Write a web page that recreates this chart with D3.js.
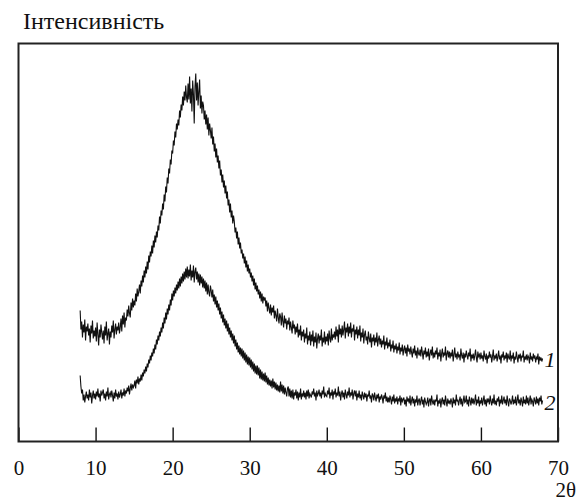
<!DOCTYPE html>
<html>
<head>
<meta charset="utf-8">
<script src="https://cdn.jsdelivr.net/npm/d3@7"></script>
<style>
  body { margin: 0; background: #fff; }
</style>
</head>
<body>
<svg width="579" height="503"></svg>
<script>
// Кут 2θ: перша точка і крок зйомки
const thetaStart = 8;
const thetaStep = 0.1;
const tickValues = [0, 10, 20, 30, 40, 50, 60, 70];
const curveLabels = ["1", "2"];
const yTitle = "Інтенсивність";
const xTitle = "2θ";
const serif = "'Liberation Serif', 'Times New Roman', serif";

// Зразок 1 (8° ... 68°, крок 0.1°), умовні одиниці
const intensity1 = [
  131, 112, 120, 104, 117, 109, 122, 101, 115, 110,
  118, 106, 113, 99, 116, 108, 121, 103, 111, 105,
  114, 100, 119, 107, 96, 112, 104, 117, 109, 102,
  111, 98, 115, 106, 120, 101, 108, 113, 97, 110,
  104, 116, 109, 121, 103, 112, 118, 107, 115, 111,
  119, 108, 114, 123, 110, 126, 117, 129, 114, 124,
  121, 132, 125, 136, 128, 124, 139, 131, 143, 134,
  141, 136, 148, 140, 153, 145, 150, 157, 148, 161,
  155, 166, 159, 171, 164, 175, 168, 180, 172, 186,
  179, 190, 185, 196, 188, 201, 194, 206, 199, 210,
  204, 216, 211, 225, 218, 231, 226, 238, 232, 247,
  240, 255, 249, 264, 258, 273, 268, 282, 277, 291,
  288, 301, 296, 310, 304, 318, 312, 322, 316, 331,
  324, 337, 331, 345, 336, 350, 341, 356, 344, 339,
  358, 342, 365, 338, 353, 330, 361, 347, 318, 355,
  368, 341, 359, 336, 350, 362, 333, 346, 328, 340,
  336, 322, 331, 317, 327, 312, 324, 306, 318, 311,
  303, 314, 297, 305, 290, 298, 284, 293, 279, 286,
  273, 281, 266, 272, 259, 267, 254, 261, 248, 256,
  243, 250, 236, 242, 229, 238, 224, 231, 218, 226,
  220, 209, 214, 203, 210, 197, 204, 193, 199, 188,
  192, 183, 188, 178, 185, 174, 181, 170, 177, 168,
  173, 164, 169, 160, 166, 156, 163, 152, 159, 150,
  156, 147, 152, 143, 150, 140, 148, 138, 145, 141,
  144, 135, 141, 130, 139, 133, 128, 137, 126, 134,
  129, 136, 123, 131, 126, 120, 133, 124, 118, 128,
  125, 116, 129, 120, 114, 126, 118, 123, 112, 121,
  117, 124, 111, 120, 114, 108, 121, 113, 117, 107,
  115, 109, 118, 104, 112, 106, 116, 101, 110, 105,
  112, 99, 108, 103, 114, 97, 106, 101, 110, 96,
  107, 100, 111, 95, 105, 99, 109, 93, 103, 108,
  98, 106, 101, 112, 95, 104, 99, 110, 97, 105,
  100, 108, 96, 111, 103, 99, 113, 101, 107, 104,
  110, 102, 115, 105, 112, 99, 117, 107, 113, 104,
  116, 106, 112, 120, 103, 114, 109, 118, 105, 115,
  108, 119, 104, 113, 110, 117, 101, 112, 107, 115,
  103, 112, 106, 116, 100, 109, 104, 113, 98, 107,
  111, 101, 105, 97, 110, 103, 99, 108, 94, 104,
  100, 107, 96, 104, 99, 109, 95, 102, 106, 97,
  103, 94, 101, 97, 106, 92, 100, 96, 104, 93,
  99, 95, 102, 90, 97, 93, 101, 89, 96, 92,
  98, 88, 95, 91, 99, 87, 94, 90, 97, 86,
  92, 96, 88, 94, 85, 97, 90, 93, 87, 95,
  89, 84, 93, 88, 96, 86, 91, 83, 94, 88,
  86, 92, 85, 95, 89, 82, 91, 87, 94, 84,
  90, 85, 93, 81, 88, 92, 86, 95, 83, 89,
  84, 91, 87, 94, 82, 89, 85, 92, 80, 88,
  93, 84, 89, 86, 95, 81, 88, 91, 84, 90,
  83, 89, 85, 92, 80, 87, 94, 84, 88, 82,
  90, 85, 87, 81, 93, 86, 83, 89, 79, 88,
  84, 91, 86, 82, 89, 85, 93, 80, 87, 83,
  88, 81, 86, 92, 84, 79, 90, 85, 87, 82,
  89, 83, 86, 80, 91, 85, 82, 88, 78, 86,
  83, 90, 84, 87, 79, 85, 92, 81, 86, 83,
  88, 80, 85, 91, 82, 86, 78, 87, 84, 90,
  81, 86, 83, 89, 79, 88, 84, 82, 91, 80,
  86, 83, 89, 78, 85, 82, 90, 84, 79, 87,
  83, 88, 80, 86, 84, 91, 79, 85, 82, 87,
  81, 86, 84, 78, 89, 82, 85, 80, 88, 83,
  86, 79, 84, 82, 88, 77, 85, 81, 84, 80,
  83
];

// Зразок 2
const intensity2 = [
  66, 55, 48, 52, 41, 47, 39, 45, 50, 43,
  47, 41, 52, 44, 49, 38, 46, 51, 43, 48,
  42, 50, 45, 53, 44, 48, 40, 51, 46, 49,
  52, 43, 48, 41, 50, 45, 54, 42, 47, 49,
  44, 51, 46, 40, 49, 43, 52, 45, 48, 42,
  50, 44, 47, 52, 43, 49, 46, 53, 45, 51,
  48, 54, 50, 56, 47, 53, 58, 51, 57, 54,
  56, 61, 53, 62, 58, 65, 57, 63, 60, 67,
  61, 69, 65, 72, 68, 75, 70, 78, 74, 82,
  78, 86, 81, 89, 85, 93, 88, 97, 92, 102,
  97, 106, 101, 110, 105, 114, 109, 119, 113, 124,
  118, 129, 122, 133, 127, 137, 131, 142, 136, 148,
  141, 151, 145, 154, 148, 157, 151, 160, 153, 163,
  155, 165, 158, 168, 160, 170, 162, 173, 164, 175,
  163, 172, 165, 177, 161, 171, 164, 176, 159, 170,
  174, 162, 170, 159, 168, 156, 167, 158, 165, 154,
  163, 153, 161, 150, 159, 147, 157, 149, 145, 156,
  151, 144, 152, 140, 147, 137, 145, 134, 141, 131,
  138, 127, 134, 123, 130, 119, 127, 116, 123, 113,
  121, 110, 118, 107, 114, 104, 111, 101, 108, 98,
  106, 95, 102, 92, 99, 89, 96, 87, 94, 85,
  93, 83, 91, 81, 89, 79, 87, 77, 85, 76,
  84, 74, 82, 72, 80, 70, 78, 68, 76, 67,
  76, 66, 74, 63, 72, 62, 70, 61, 68, 60,
  69, 59, 66, 57, 64, 56, 62, 55, 61, 53,
  63, 54, 60, 52, 59, 51, 57, 50, 56, 49,
  60, 50, 57, 48, 56, 47, 54, 49, 45, 53,
  55, 45, 53, 44, 51, 43, 52, 42, 49, 46,
  52, 43, 50, 41, 49, 44, 53, 42, 48, 45,
  51, 44, 49, 42, 51, 45, 52, 43, 48, 46,
  44, 50, 47, 53, 45, 49, 41, 51, 46, 48,
  52, 45, 49, 43, 51, 47, 55, 44, 48, 46,
  45, 51, 47, 54, 43, 49, 46, 52, 42, 50,
  47, 53, 44, 49, 46, 55, 45, 50, 41, 48,
  51, 44, 49, 42, 52, 47, 43, 50, 46, 54,
  44, 49, 46, 52, 42, 48, 51, 45, 51, 41,
  48, 44, 51, 43, 47, 41, 50, 46, 42, 49,
  44, 48, 40, 47, 45, 51, 43, 46, 39, 48,
  46, 41, 49, 44, 40, 47, 43, 48, 39, 45,
  42, 47, 44, 38, 46, 43, 49, 40, 45, 39,
  44, 39, 46, 42, 37, 45, 40, 47, 38, 43,
  40, 45, 37, 43, 41, 46, 36, 44, 40, 42,
  44, 37, 42, 35, 45, 40, 43, 38, 46, 36,
  41, 45, 38, 43, 35, 42, 39, 46, 36, 41,
  43, 36, 41, 45, 37, 42, 34, 44, 40, 37,
  39, 44, 35, 41, 43, 36, 46, 40, 37, 42,
  36, 42, 40, 47, 35, 41, 38, 43, 34, 41,
  44, 37, 42, 36, 46, 40, 35, 43, 38, 41,
  37, 43, 40, 34, 44, 38, 42, 36, 47, 40,
  42, 36, 41, 45, 37, 43, 35, 40, 46, 39,
  40, 46, 37, 42, 35, 45, 41, 36, 44, 38,
  43, 37, 41, 47, 36, 42, 38, 45, 35, 41,
  38, 44, 36, 41, 46, 37, 42, 35, 43, 40,
  42, 37, 46, 40, 36, 43, 38, 47, 37, 41,
  36, 43, 40, 45, 35, 42, 38, 46, 37, 41,
  45, 38, 42, 36, 46, 40, 35, 43, 41, 37,
  40, 46, 37, 42, 38, 45, 36, 41, 47, 38,
  42, 36, 44, 40, 35, 45, 38, 42, 37, 46,
  38, 44, 36, 41, 46, 37, 42, 40, 35, 44,
  41, 37, 45, 38, 43, 36, 44, 40, 46, 37,
  41
];

class XrdChart {
  constructor(width, height) {
    this.width = width;
    this.height = height;
    this.box = { left: 18.5, right: 558, top: 43.5, bottom: 441.5 };
  }

  draw(series) {
    const svg = d3.select("svg");
    const box = this.box;

    const x = d3.scaleLinear().domain([0, 70]).range([box.left, box.right]);
    const y = d3.scaleLinear().domain([0, 398]).range([box.bottom, box.top]);

    const line = d3.line()
      .x((d, i) => x(thetaStart + i * thetaStep))
      .y(d => y(d));

    // криві
    series.forEach((values, k) => {
      svg.append("path")
        .datum(values)
        .attr("fill", "none")
        .attr("stroke", "#111")
        .attr("stroke-width", 1.1)
        .attr("d", line);

      const n = values.length;
      const tail = d3.mean(values.slice(n - 30));
      svg.append("text")
        .attr("x", x(thetaStart + (n - 1) * thetaStep) + 2)
        .attr("y", y(tail))
        .attr("dy", "0.4em")
        .attr("font-family", serif)
        .attr("font-size", 22)
        .attr("font-style", "italic")
        .attr("fill", "#111")
        .text(curveLabels[k]);
    });

    // вісь x з рисками всередину
    const axis = svg.append("g")
      .attr("transform", `translate(0, ${box.bottom})`)
      .call(d3.axisBottom(x).tickValues(tickValues).tickSize(-14).tickPadding(18.5))
      .attr("font-family", serif)
      .attr("font-size", 21);
    axis.select(".domain").remove();
    axis.selectAll(".tick line").attr("stroke", "#111").attr("stroke-width", 1.4);
    axis.selectAll(".tick text").attr("fill", "#111");

    // рамка
    svg.append("rect")
      .attr("x", box.left)
      .attr("y", box.top)
      .attr("width", box.right - box.left)
      .attr("height", box.bottom - box.top)
      .attr("fill", "none")
      .attr("stroke", "#222")
      .attr("stroke-width", 2);

    svg.append("text")
      .attr("x", 23)
      .attr("y", 29)
      .attr("font-family", serif)
      .attr("font-size", 24)
      .attr("fill", "#111")
      .text(yTitle);

    svg.append("text")
      .attr("x", 576)
      .attr("y", 497)
      .attr("text-anchor", "end")
      .attr("font-family", serif)
      .attr("font-size", 21)
      .attr("fill", "#111")
      .text(xTitle);

    return svg;
  }
}

const chart = new XrdChart(579, 503);
chart.draw([intensity1, intensity2]);
</script>
</body>
</html>
